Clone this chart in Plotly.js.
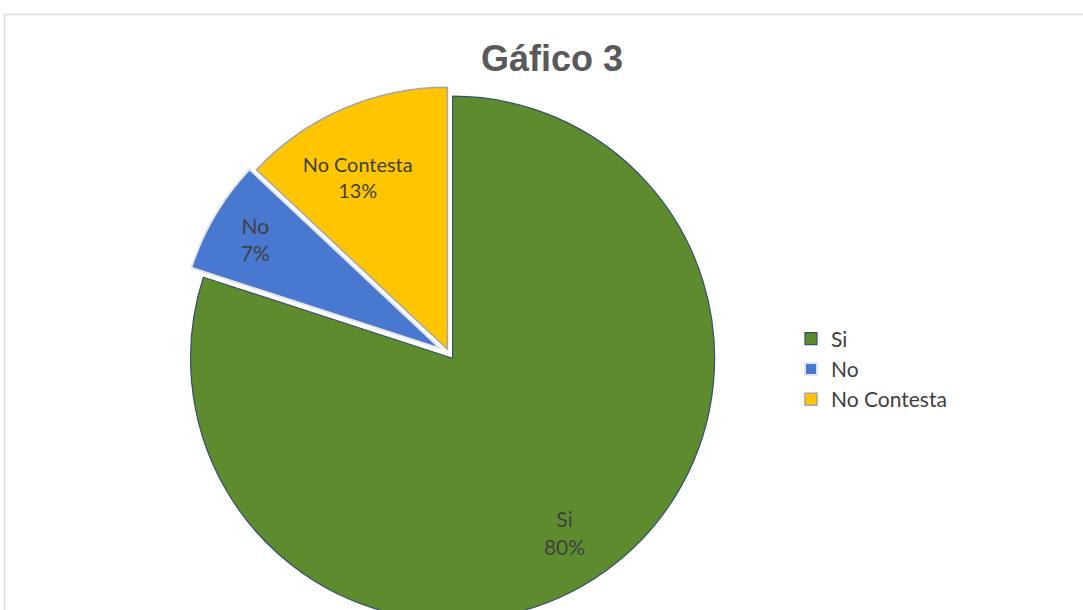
<!DOCTYPE html>
<html>
<head>
<meta charset="utf-8">
<script src="https://cdn.plot.ly/plotly-3.0.1.min.js"></script>
<style>
html,body{margin:0;padding:0;overflow:hidden;background:#fff;}
#chart{width:1083px;height:640px;}
</style>
</head>
<body>
<div id="chart"></div>
<script>
const categories = ["Si", "No", "No Contesta"];
const values = [80, 7, 13];
const sliceColors = ["#5E8B2D", "#4878CF", "#FFC600"];
const titleText = "Gáfico 3";

const W = 1083, H = 640;
// label placement: the big slice's label sits further out, as in the reference
const nb = "\u00a0";
const pad = nb.repeat(13);
const blank = (nb + "<br>").repeat(5);
const rpad = nb.repeat(6);
const templates = [
  blank + pad + "%{label}<br>" + pad + "%{percent}",
  "%{label}<br>%{percent}",
  "%{label}" + rpad + "<br>%{percent}" + rpad
];

const trace = {
  type: "pie",
  labels: categories,
  values: values,
  sort: false,
  direction: "clockwise",
  rotation: 0,
  pull: [0.02, 0.04, 0.02],
  marker: {
    colors: sliceColors,
    line: {color: ["#34506a", "#e6e6e6", "#a6a6a6"], width: [1.2, 2, 1.5]}
  },
  texttemplate: templates,
  textposition: "inside",
  insidetextorientation: "horizontal",
  textfont: {family: "Lato, 'Liberation Sans', sans-serif", size: 21, color: "#404040"},
  domain: {x: [177/W, 722/W], y: [1 - 626.5/H, 1 - 81.5/H]},
  hoverinfo: "label+percent"
};

const layout = {
  width: W, height: H,
  margin: {l: 0, r: 0, t: 0, b: 0},
  paper_bgcolor: "#ffffff",
  title: {
    text: "<b>" + titleText + "</b>",
    font: {family: "'Liberation Sans', Arial, sans-serif", size: 36, color: "#595959"},
    x: 552/W, xanchor: "center",
    y: 1 - 58/H, yanchor: "middle"
  },
  showlegend: true,
  legend: {
    x: 791/W, xanchor: "left",
    y: 1 - 369/H, yanchor: "middle",
    font: {family: "Lato, 'Liberation Sans', sans-serif", size: 21, color: "#404040"},
    bgcolor: "rgba(0,0,0,0)"
  },
  shapes: [{
    type: "rect", xref: "paper", yref: "paper",
    x0: 4.5/W, x1: 1.02, y0: -0.05, y1: 1 - 14.5/H,
    line: {color: "#d9d9d9", width: 1.5}
  }]
};

Plotly.newPlot("chart", [trace], layout, {displayModeBar: false, staticPlot: true});
</script>
</body>
</html>
